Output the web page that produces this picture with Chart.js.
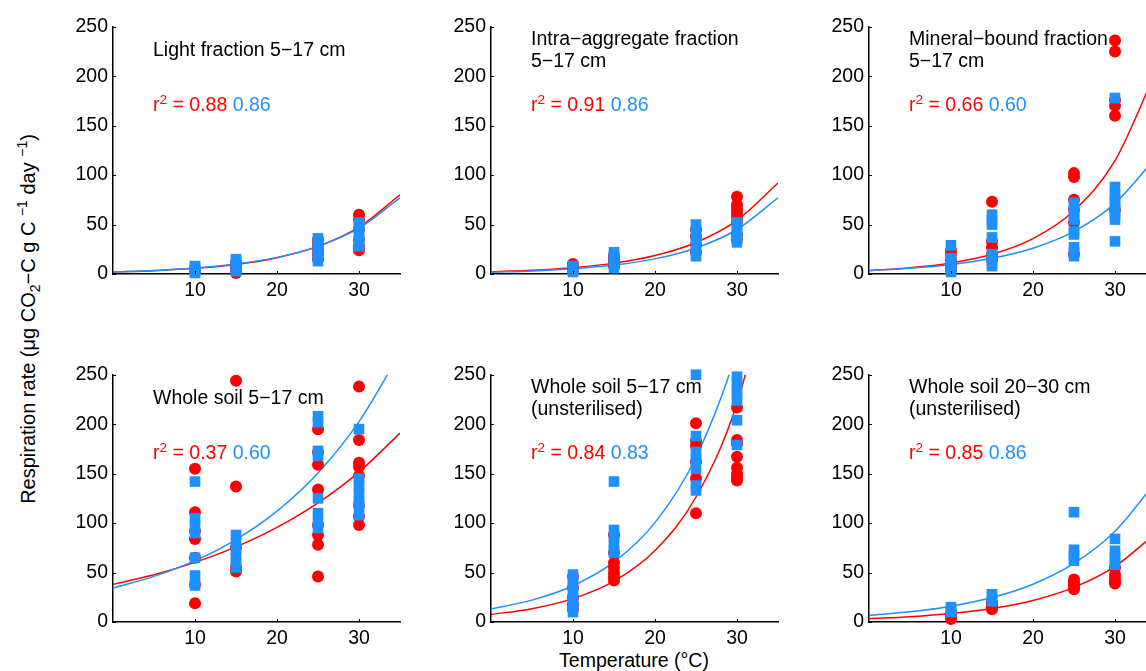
<!DOCTYPE html>
<html>
<head>
<meta charset="utf-8">
<script src="https://cdn.jsdelivr.net/npm/chart.js@4.4.1/dist/chart.umd.min.js"></script>
<style>
  body { margin: 0; background: #fff; }
  #fig { position: relative; width: 1146px; height: 671px; overflow: hidden;
         font-family: "Liberation Sans", Arial, sans-serif; color: #000; background: #fff; }
  .panel { position: absolute; }
  .label { position: absolute; font-size: 19.5px; line-height: 22px; white-space: pre; }
  sup, sub { font-size: 70%; line-height: 0; }
  .red { color: #ff0000; }
  .blue { color: #1e90ff; }
  #ytitle { position: absolute; left: 28px; top: 319px; font-size: 20px; white-space: nowrap;
            transform: translate(-50%, -50%) rotate(-90deg); }
  #xtitle { position: absolute; left: 634px; top: 649px; font-size: 19.5px; line-height: 22px;
            white-space: nowrap; transform: translateX(-50%); }
</style>
</head>
<body>
<div id="fig">
  <div id="ytitle">Respiration rate (μg CO<sub>2</sub>−C g C <sup>−1</sup> day <sup>−1</sup>)</div>
  <div id="xtitle">Temperature (°C)</div>
</div>
<script>
// incubation temperatures (°C)
const temps = [10, 15, 25, 30];
// temperatures where the fitted curves are traced
const fitTemps = [0, 5, 10, 15, 20, 25, 30, 35];
const xTickValues = [10, 20, 30];
const yTickValues = [0, 50, 100, 150, 200, 250];

const panelTitles = [
  'Light fraction 5−17 cm',
  'Intra−aggregate fraction\n5−17 cm',
  'Mineral−bound fraction\n5−17 cm',
  'Whole soil 5−17 cm',
  'Whole soil 5−17 cm\n(unsterilised)',
  'Whole soil 20−30 cm\n(unsterilised)'
];
const r2Red = ['0.88', '0.91', '0.66', '0.37', '0.84', '0.85'];
const r2Blue = ['0.86', '0.86', '0.60', '0.60', '0.83', '0.86'];

// measured rates, one inner list per temperature
const lightRed = [[2, 4, 5, 3], [1, 5, 8, 12], [15, 20, 25, 30, 35], [60, 55, 45, 35, 28, 24]];
const lightBlue = [[1, 3, 5, 7, 8], [3, 6, 9, 13, 15], [13, 18, 22, 27, 32, 36], [28, 33, 38, 43, 48, 52]];
const lightRedFit = [2.0, 3.4, 5.7, 9.7, 16.5, 27.9, 47.3, 80];
const lightBlueFit = [2.2, 3.6, 6.1, 10.1, 16.8, 27.9, 46.3, 77];

const intraRed = [[10, 6, 3], [8, 12, 16, 19], [22, 30, 38, 45], [78, 70, 66, 62, 58, 53, 40, 35]];
const intraBlue = [[2, 4, 6, 8], [6, 10, 14, 18, 22], [18, 24, 30, 36, 42, 50], [32, 36, 40, 44, 48, 52]];
const intraRedFit = [2.2, 3.8, 6.4, 11.0, 18.7, 31.9, 54.3, 92];
const intraBlueFit = [1.8, 3.1, 5.3, 9.0, 15.3, 26.3, 45.0, 77];

const mineralRed = [[24, 20, 14, 8, 4], [73, 33, 27, 20, 15], [102, 98, 75, 65, 52, 20], [236, 225, 176, 170, 160, 65]];
const mineralBlue = [[29, 16, 12, 8, 5, 2], [60, 55, 50, 37, 20, 16, 12, 8], [72, 66, 60, 55, 43, 40, 27, 22, 18], [178, 88, 80, 75, 70, 65, 60, 55, 33]];
const mineralRedFit = [3.5, 6.3, 11.2, 20.0, 35.8, 64.0, 114.6, 205];
const mineralBlueFit = [3.5, 5.8, 9.6, 15.9, 26.1, 43.1, 71.4, 118];

const wholeRed = [[155, 111, 92, 84, 65, 38, 19], [244, 137, 75, 55, 51], [195, 172, 159, 134, 98, 88, 78, 46], [238, 184, 161, 157, 148, 118, 107, 98]];
const wholeBlue = [[142, 105, 98, 90, 65, 47, 37], [88, 80, 73, 66, 60, 55], [208, 202, 173, 168, 125, 110, 100, 95], [195, 145, 138, 130, 122, 118, 108]];
const wholeRedFit = [38, 47.8, 60.3, 75.9, 95.6, 120.4, 151.6, 191];
const wholeBlueFit = [34.3, 46.1, 62.0, 83.4, 112.1, 150.7, 202.6, 272];

const unsterRed = [[46, 35, 25, 18, 13], [88, 70, 60, 55, 50, 46, 42], [201, 183, 178, 162, 145, 110], [217, 184, 180, 167, 156, 150, 146, 143]];
const unsterBlue = [[48, 42, 36, 30, 24, 18, 10], [142, 93, 86, 80, 74, 70], [250, 188, 172, 165, 155, 138, 133], [248, 242, 236, 230, 224, 204, 179]];
const unsterRedFit = [7.7, 13.5, 23.6, 41.3, 72.3, 126.4, 221, 384];
const unsterBlueFit = [13.3, 22.1, 36.6, 60.7, 100.5, 166.6, 276, 458];

const deepRed = [[3, 6, 9], [20, 17, 15, 13], [43, 40, 37, 35, 33], [55, 48, 44, 41, 39]];
const deepBlue = [[15, 12, 10], [28, 25, 21], [111, 73, 67, 62], [84, 72, 66, 62, 58]];
const deepRedFit = [3.3, 5.3, 8.5, 13.6, 21.8, 35.0, 56.2, 90];
const deepBlueFit = [6.7, 10.3, 16.0, 24.7, 38.2, 59.2, 91.7, 142];

const RED = '#ff0000';
const BLUE = '#1e90ff';

const panels = [
  [lightRed, lightBlue, lightRedFit, lightBlueFit],
  [intraRed, intraBlue, intraRedFit, intraBlueFit],
  [mineralRed, mineralBlue, mineralRedFit, mineralBlueFit],
  [wholeRed, wholeBlue, wholeRedFit, wholeBlueFit],
  [unsterRed, unsterBlue, unsterRedFit, unsterBlueFit],
  [deepRed, deepBlue, deepRedFit, deepBlueFit]
];

// plot area corners (left, top) for the 2 x 3 grid
const colLeft = [113, 491, 869];
const rowTop = [24, 372];
const PLOT_W = 287, PLOT_H = 250;
const AXIS_W = 60, AXIS_H = 32, PAD = 12;

Chart.defaults.font.family = '"Liberation Sans", Arial, sans-serif';
Chart.defaults.color = '#000';

function toPoints(groups) {
  const pts = [];
  groups.forEach((vals, i) => vals.forEach(v => pts.push({ x: temps[i], y: v })));
  return pts;
}

function toCurve(vals) {
  return vals.map((v, i) => ({ x: fitTemps[i], y: v }));
}

// MATLAB-style tick marks pointing into the plot
const inwardTicks = {
  id: 'inwardTicks',
  afterDraw(chart) {
    const { ctx, chartArea, scales } = chart;
    ctx.save();
    ctx.strokeStyle = '#000';
    ctx.lineWidth = 1;
    ctx.beginPath();
    scales.x.ticks.forEach(t => {
      const px = Math.round(scales.x.getPixelForValue(t.value)) + 0.5;
      ctx.moveTo(px, chartArea.bottom);
      ctx.lineTo(px, chartArea.bottom - 3);
    });
    scales.y.ticks.forEach(t => {
      const py = Math.round(scales.y.getPixelForValue(t.value)) + 0.5;
      ctx.moveTo(chartArea.left, py);
      ctx.lineTo(chartArea.left + 3, py);
    });
    ctx.stroke();
    ctx.restore();
  }
};

const fig = document.getElementById('fig');

panels.forEach(([red, blue, redFit, blueFit], k) => {
  const L = colLeft[k % 3];
  const T = rowTop[Math.floor(k / 3)];

  const box = document.createElement('div');
  box.className = 'panel';
  box.style.left = (L - AXIS_W) + 'px';
  box.style.top = (T - PAD) + 'px';
  const canvas = document.createElement('canvas');
  canvas.width = AXIS_W + PLOT_W + PAD;
  canvas.height = PAD + PLOT_H + AXIS_H;
  box.appendChild(canvas);
  fig.appendChild(box);

  new Chart(canvas.getContext('2d'), {
    type: 'scatter',
    data: {
      datasets: [
        { data: toPoints(blue), pointStyle: 'rect', pointRadius: 7.5, backgroundColor: BLUE,
          borderWidth: 0, clip: false },
        { data: toPoints(red), pointStyle: 'circle', pointRadius: 6, backgroundColor: RED,
          borderWidth: 0, clip: false },
        { data: toCurve(blueFit), showLine: true, pointRadius: 0, borderColor: BLUE,
          borderWidth: 1.5, cubicInterpolationMode: 'monotone' },
        { data: toCurve(redFit), showLine: true, pointRadius: 0, borderColor: RED,
          borderWidth: 1.5, cubicInterpolationMode: 'monotone' }
      ]
    },
    options: {
      responsive: false,
      animation: false,
      events: [],
      layout: { padding: { top: PAD, right: PAD, left: 0, bottom: 0 } },
      plugins: { legend: { display: false }, tooltip: { enabled: false } },
      scales: {
        x: {
          type: 'linear', min: 0, max: 35,
          afterBuildTicks: axis => { axis.ticks = xTickValues.map(v => ({ value: v })); },
          afterFit: axis => { axis.height = AXIS_H; },
          grid: { display: false, drawTicks: false },
          border: { display: true, color: '#000', width: 1.5 },
          ticks: { font: { size: 19.5, lineHeight: 1 }, padding: 7, maxRotation: 0 }
        },
        y: {
          type: 'linear', min: 0, max: 250,
          afterBuildTicks: axis => { axis.ticks = yTickValues.map(v => ({ value: v })); },
          afterFit: axis => { axis.width = AXIS_W; },
          grid: { display: false, drawTicks: false },
          border: { display: true, color: '#000', width: 1.5 },
          ticks: { font: { size: 19.5, lineHeight: 1 }, padding: 5 }
        }
      }
    },
    plugins: [inwardTicks]
  });

  const lines = panelTitles[k].split('\n').length;
  const title = document.createElement('div');
  title.className = 'label';
  title.style.left = (L + 40) + 'px';
  title.style.top = (T + 25 - lines * 11) + 'px';
  title.textContent = panelTitles[k];
  fig.appendChild(title);

  const r2 = document.createElement('div');
  r2.className = 'label';
  r2.style.left = (L + 40) + 'px';
  r2.style.top = (T + 69) + 'px';
  r2.innerHTML = '<span class="red">r<sup>2</sup> = ' + r2Red[k] + '</span> <span class="blue">' + r2Blue[k] + '</span>';
  fig.appendChild(r2);
});
</script>
</body>
</html>
